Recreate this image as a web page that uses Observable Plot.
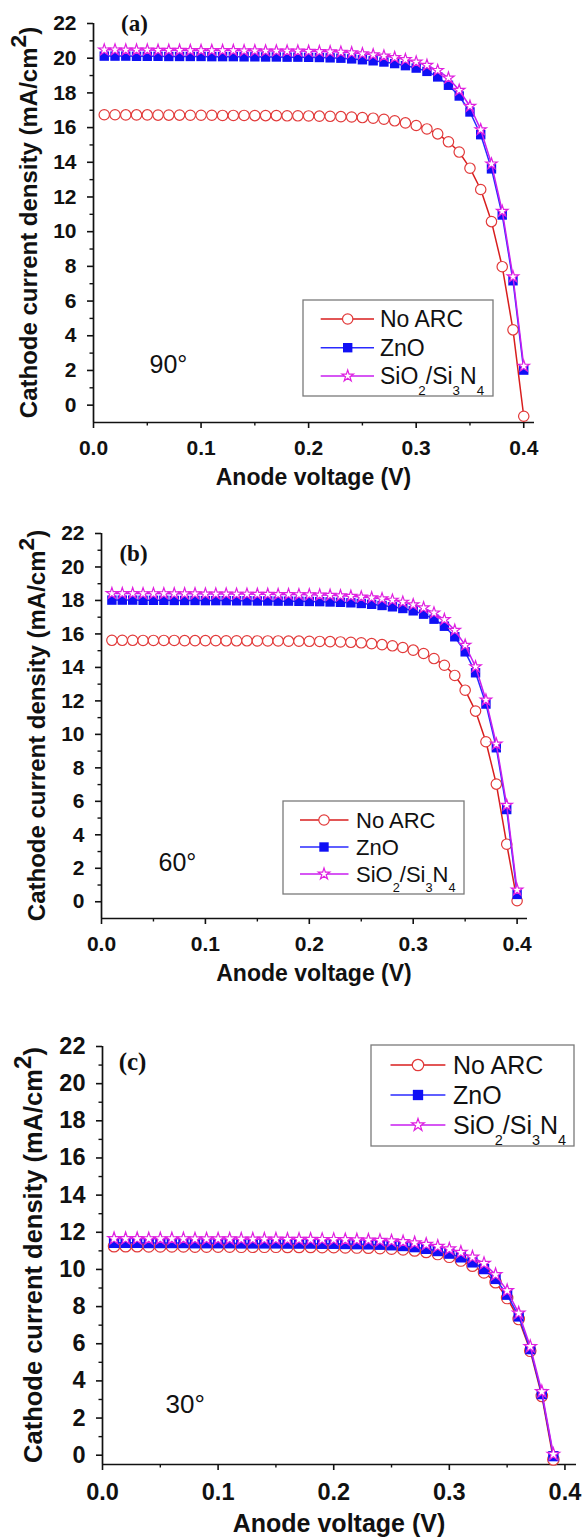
<!DOCTYPE html>
<html><head><meta charset="utf-8">
<script src="https://cdn.jsdelivr.net/npm/d3@7"></script>
<script src="https://cdn.jsdelivr.net/npm/@observablehq/plot@0.6"></script>
<style>
html,body{margin:0;padding:0;background:#fff;}
#wrap{position:relative;width:582px;height:1538px;overflow:hidden;background:#fff;}
.panel{position:absolute;left:0;}
.panel svg{display:block;overflow:visible;}
</style></head><body><div id="wrap"></div>
<script>
// ---------- data ----------
const seriesNames = ["No ARC", "ZnO", "SiO2/Si3N4"];
const xMajorTicks = [0, 0.1, 0.2, 0.3, 0.4];
const xMinorTicks = [0.05, 0.15, 0.25, 0.35];
const yMajorTicks = [0, 2, 4, 6, 8, 10, 12, 14, 16, 18, 20, 22];
const yMinorTicks = [1, 3, 5, 7, 9, 11, 13, 15, 17, 19, 21];

const voltageAB = [0.01,0.02,0.03,0.04,0.05,0.06,0.07,0.08,0.09,0.10,0.11,0.12,0.13,0.14,0.15,0.16,0.17,0.18,0.19,0.20,
  0.21,0.22,0.23,0.24,0.25,0.26,0.27,0.28,0.29,0.30,0.31,0.32,0.33,0.34,0.35,0.36,0.37,0.38,0.39,0.40];
const voltageC = [0.01,0.02,0.03,0.04,0.05,0.06,0.07,0.08,0.09,0.10,0.11,0.12,0.13,0.14,0.15,0.16,0.17,0.18,0.19,0.20,
  0.21,0.22,0.23,0.24,0.25,0.26,0.27,0.28,0.29,0.30,0.31,0.32,0.33,0.34,0.35,0.36,0.37,0.38,0.39];

// (a) 90 degrees
const noArcA = [16.74,16.74,16.73,16.73,16.73,16.72,16.72,16.72,16.71,16.71,16.71,16.70,16.70,16.70,16.69,16.69,16.69,16.68,16.68,16.67,
  16.66,16.65,16.63,16.61,16.58,16.54,16.48,16.39,16.27,16.12,15.92,15.64,15.18,14.59,13.66,12.43,10.58,7.98,4.34,-0.64];
const znoA = [20.12,20.12,20.12,20.11,20.11,20.11,20.10,20.10,20.10,20.10,20.09,20.09,20.09,20.08,20.08,20.07,20.07,20.06,20.06,20.05,
  20.04,20.02,20.00,19.96,19.91,19.85,19.78,19.69,19.57,19.43,19.24,18.92,18.44,17.82,16.90,15.59,13.62,10.96,7.17,2.02];
const sio2A = [20.48,20.48,20.47,20.47,20.47,20.46,20.46,20.46,20.45,20.45,20.45,20.44,20.44,20.43,20.43,20.42,20.42,20.41,20.41,20.40,
  20.39,20.37,20.35,20.31,20.26,20.20,20.13,20.04,19.92,19.78,19.59,19.30,18.86,18.15,17.23,15.88,13.91,11.18,7.40,2.25];

// (b) 60 degrees
const noArcB = [15.62,15.62,15.62,15.61,15.61,15.61,15.61,15.60,15.60,15.60,15.60,15.59,15.59,15.59,15.58,15.58,15.58,15.57,15.57,15.56,
  15.55,15.54,15.52,15.50,15.47,15.42,15.36,15.29,15.19,15.03,14.83,14.53,14.13,13.52,12.64,11.39,9.56,7.03,3.44,0.06];
const znoB = [18.02,18.02,18.02,18.01,18.01,18.01,18.00,18.00,18.00,17.99,17.99,17.99,17.98,17.98,17.97,17.97,17.96,17.96,17.95,17.94,
  17.93,17.91,17.89,17.86,17.82,17.77,17.70,17.62,17.52,17.38,17.18,16.88,16.46,15.83,14.93,13.68,11.81,9.20,5.51,0.44];
const sio2B = [18.42,18.42,18.42,18.41,18.41,18.41,18.40,18.40,18.40,18.39,18.39,18.39,18.38,18.38,18.37,18.37,18.36,18.36,18.35,18.34,
  18.33,18.31,18.28,18.25,18.21,18.16,18.10,18.02,17.90,17.75,17.56,17.26,16.86,16.22,15.33,14.04,12.05,9.42,5.77,0.70];

// (c) 30 degrees
const noArcC = [11.25,11.25,11.25,11.24,11.24,11.24,11.24,11.23,11.23,11.23,11.23,11.22,11.22,11.22,11.22,11.21,11.21,11.21,11.20,11.20,
  11.19,11.18,11.17,11.15,11.12,11.08,11.02,10.94,10.83,10.68,10.48,10.20,9.84,9.31,8.46,7.33,5.62,3.19,-0.23];
const znoC = [11.43,11.43,11.43,11.42,11.42,11.42,11.42,11.41,11.41,11.41,11.41,11.40,11.40,11.40,11.40,11.39,11.39,11.39,11.38,11.38,
  11.37,11.36,11.35,11.33,11.30,11.26,11.20,11.11,10.99,10.85,10.65,10.38,10.02,9.49,8.64,7.47,5.71,3.29,-0.05];
const sio2C = [11.66,11.66,11.66,11.65,11.65,11.65,11.65,11.64,11.64,11.64,11.64,11.63,11.63,11.63,11.63,11.62,11.62,11.62,11.61,11.61,
  11.60,11.59,11.58,11.56,11.53,11.49,11.43,11.35,11.24,11.10,10.92,10.66,10.32,9.72,8.86,7.65,5.85,3.42,0.05];

// ---------- style ----------
const W = 582;
const FONT = "'Liberation Sans', Arial, Helvetica, sans-serif";
const SERIF = "'Liberation Serif', 'Times New Roman', serif";
const RED_LINE = "#d81e1e", RED_DOT = "#e23a3a";
const BLUE = "#1010f5", BLUE_LINE = "#2a2aff";
const MAG = "#e020e0", MAG_LINE = "#c81ef0";
const INK = "#111";

const panels = [
  {top: 0, height: 500, mt: 23, mb: 78, ml: 93, mr: 48, yDomain: [-1, 22], volt: voltageAB,
   series: [noArcA, znoA, sio2A], tickFont: 21, xPad: 12, xTitleFont: 23, xTitleOff: 63,
   yTitleFont: 24, yTitleOff: 56, tag: "(a)", tagDx: 41, tagDy: 0, tagFont: 23,
   angle: "90°", angleDx: 56, angleDy: -58, angleFont: 25, ms: 1,
   legend: {x: 303, y: 300, w: 190, h: 96, rows: [19, 47.7, 76], l0: 17.7, l1: 71, m: 44.7, tx: 77, font: 23}},
  {top: 500, height: 510, mt: 33, mb: 92, ml: 101, mr: 55, yDomain: [-1, 22], volt: voltageAB,
   series: [noArcB, znoB, sio2B], tickFont: 21, xPad: 12, xTitleFont: 23, xTitleOff: 63.4,
   yTitleFont: 24, yTitleOff: 56, tag: "(b)", tagDx: 32, tagDy: 20, tagFont: 23,
   angle: "60°", angleDx: 57, angleDy: -56, angleFont: 25, ms: 1,
   legend: {x: 283, y: 301, w: 181, h: 93, rows: [19, 46, 73], l0: 17, l1: 65.5, m: 41, tx: 73, font: 22}},
  {top: 1010, height: 528, mt: 36, mb: 74, ml: 102, mr: 6, yDomain: [-0.5, 22], volt: voltageC,
   series: [noArcC, znoC, sio2C], tickFont: 23.5, xPad: 13, xTitleFont: 25, xTitleOff: 68,
   yTitleFont: 25.5, yTitleOff: 60, tag: "(c)", tagDx: 30, tagDy: 15, tagFont: 25,
   angle: "30°", angleDx: 63, angleDy: -60, angleFont: 26, ms: 1.1,
   legend: {x: 371, y: 35, w: 203, h: 101, rows: [20, 50, 80], l0: 19.5, l1: 74.4, m: 47, tx: 82, font: 25}}
];

const legendStyles = [
  {line: RED_LINE, symbol: d3.symbolCircle, r: 5.2, fill: "white", stroke: RED_DOT, sw: 1.2},
  {line: BLUE_LINE, symbol: d3.symbolSquare, r: 5.3, fill: BLUE, stroke: "none", sw: 0},
  {line: MAG_LINE, symbol: d3.symbolStar, r: 3.6, fill: "white", stroke: MAG, sw: 1.2}
];
const labelParts = [
  [["No ARC", false]],
  [["ZnO", false]],
  [["SiO", false], ["2", true], ["/Si", false], ["3", true], ["N", false], ["4", true]]
];

function drawPanel(cfg) {
  const rows = [];
  cfg.series.forEach((vals, k) => vals.forEach((v, i) => rows.push({s: k, x: cfg.volt[i], y: v})));
  const sel = k => rows.filter(d => d.s === k);
  const ms = cfg.ms;
  const plot = Plot.plot({
    width: W, height: cfg.height,
    marginTop: cfg.mt, marginBottom: cfg.mb, marginLeft: cfg.ml, marginRight: cfg.mr,
    x: {domain: [0, 0.41]},
    y: {domain: cfg.yDomain},
    style: {fontFamily: FONT, background: "transparent", overflow: "visible", color: INK},
    marks: [
      Plot.axisX({ticks: xMajorTicks, tickSize: 6, tickPadding: cfg.xPad, tickFormat: d3.format(".1f"),
        fontSize: cfg.tickFont, fontWeight: "bold", label: null, strokeWidth: 1.6}),
      Plot.axisX({ticks: xMinorTicks, tickSize: 3.5, tickFormat: () => "", label: null, strokeWidth: 1.4}),
      Plot.axisY({ticks: yMajorTicks, tickSize: 6, tickPadding: 11, tickFormat: d => String(d),
        fontSize: cfg.tickFont, fontWeight: "bold", label: null, strokeWidth: 1.6}),
      Plot.axisY({ticks: yMinorTicks, tickSize: 3.5, tickFormat: () => "", label: null, strokeWidth: 1.4}),
      Plot.ruleX([0], {stroke: INK, strokeWidth: 1.7}),
      Plot.ruleY([cfg.yDomain[0]], {stroke: INK, strokeWidth: 1.7}),
      Plot.line(sel(0), {x: "x", y: "y", stroke: RED_LINE, strokeWidth: 1.5}),
      Plot.dot(sel(0), {x: "x", y: "y", r: 5.2 * ms, stroke: RED_DOT, fill: "white", strokeWidth: 1.2}),
      Plot.line(sel(1), {x: "x", y: "y", stroke: BLUE_LINE, strokeWidth: 1.5}),
      Plot.dot(sel(1), {x: "x", y: "y", symbol: "square", r: 5.3 * ms, fill: BLUE, stroke: "none"}),
      Plot.line(sel(2), {x: "x", y: "y", stroke: MAG_LINE, strokeWidth: 1.5}),
      Plot.dot(sel(2), {x: "x", y: "y", symbol: "star", r: 3.6 * ms, fill: "white", stroke: MAG, strokeWidth: 1.2}),
      Plot.text([cfg.tag], {text: d => d, frameAnchor: "top-left", dx: cfg.tagDx, dy: cfg.tagDy,
        textAnchor: "middle", lineAnchor: "middle", fontFamily: SERIF, fontWeight: "bold", fontSize: cfg.tagFont, fill: INK}),
      Plot.text([cfg.angle], {text: d => d, frameAnchor: "bottom-left", dx: cfg.angleDx, dy: cfg.angleDy,
        textAnchor: "start", lineAnchor: "middle", fontFamily: FONT, fontSize: cfg.angleFont, fill: INK})
    ]
  });

  const svg = d3.select(plot);
  svg.selectAll('[aria-label$="tick label"] text').attr("font-weight", "bold");
  const fx0 = cfg.ml, fx1 = W - cfg.mr, fy0 = cfg.mt, fy1 = cfg.height - cfg.mb;

  // y title with superscript
  const fs = cfg.yTitleFont;
  const yt = svg.append("text")
    .attr("transform", `translate(${fx0 - cfg.yTitleOff},${(fy0 + fy1) / 2}) rotate(-90)`)
    .attr("text-anchor", "middle").attr("font-family", FONT).attr("font-weight", "bold")
    .attr("font-size", fs).attr("fill", INK);
  yt.append("tspan").text("Cathode current density (mA/cm");
  yt.append("tspan").attr("dy", -0.45 * fs).attr("font-size", 0.95 * fs).text("2");
  yt.append("tspan").attr("dy", 0.45 * fs).text(")");

  // x title
  svg.append("text").attr("x", (fx0 + fx1) / 2).attr("y", fy1 + cfg.xTitleOff)
    .attr("text-anchor", "middle").attr("font-family", FONT).attr("font-weight", "bold")
    .attr("font-size", cfg.xTitleFont).attr("fill", INK).text("Anode voltage (V)");

  // legend
  const L = cfg.legend;
  const g = svg.append("g").attr("transform", `translate(${L.x},${L.y})`);
  g.append("rect").attr("width", L.w).attr("height", L.h).attr("fill", "white")
    .attr("stroke", "#7a7a7a").attr("stroke-width", 1.3);
  seriesNames.forEach((name, i) => {
    const st = legendStyles[i];
    const yy = L.rows[i];
    g.append("line").attr("x1", L.l0).attr("x2", L.l1).attr("y1", yy).attr("y2", yy)
      .attr("stroke", st.line).attr("stroke-width", 1.5);
    const r = st.r * ms;
    g.append("path").attr("d", d3.symbol(st.symbol, Math.PI * r * r)())
      .attr("transform", `translate(${L.m},${yy})`)
      .attr("fill", st.fill).attr("stroke", st.stroke).attr("stroke-width", st.sw);
    const t = g.append("text").attr("x", L.tx).attr("y", yy).attr("dy", "0.36em")
      .attr("text-anchor", "start")
      .attr("font-family", FONT).attr("font-size", L.font).attr("fill", INK);
    let shifted = false;
    labelParts[i].forEach(([txt, sub]) => {
      const sp = t.append("tspan").text(txt);
      if (sub && !shifted) { sp.attr("dy", 0.45 * L.font).attr("font-size", 0.58 * L.font); shifted = true; }
      else if (!sub && shifted) { sp.attr("dy", -0.45 * L.font); shifted = false; }
      else if (sub) { sp.attr("font-size", 0.58 * L.font); }
    });
  });

  const div = document.createElement("div");
  div.className = "panel";
  div.style.top = cfg.top + "px";
  div.appendChild(plot);
  document.getElementById("wrap").appendChild(div);
}

panels.forEach(drawPanel);
</script></body></html>
